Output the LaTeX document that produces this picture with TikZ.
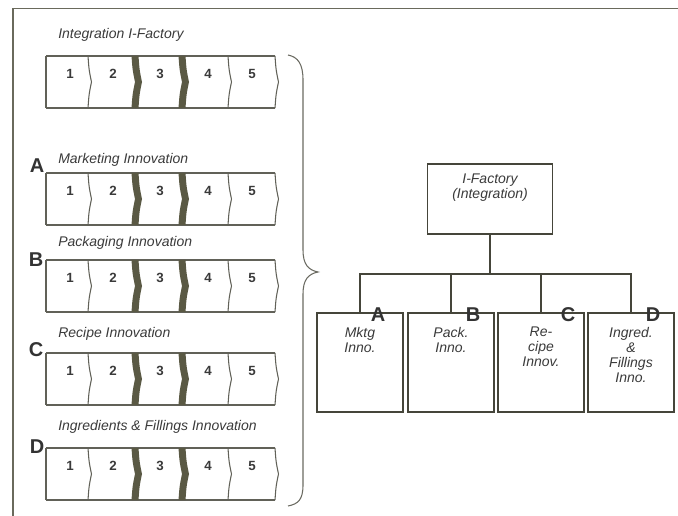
\documentclass[tikz,border=0pt]{standalone}
\usepackage{fontspec}
\setmainfont{Liberation Sans}
\usetikzlibrary{positioning}
\definecolor{ifLine}{HTML}{45453A}
\definecolor{ifBar}{HTML}{5A5944}
\definecolor{ifText}{HTML}{3A3A3A}
\definecolor{ifFrame}{HTML}{6A6A5C}

\begin{document}
\begin{tikzpicture}[x=0.75pt,y=-0.75pt]
    \tikzstyle{rowtitle}=[anchor=west, inner sep=0pt, text=ifText, font=\fontsize{10.5}{12}\selectfont\itshape]
    \tikzstyle{stepno}=[inner sep=0pt, text=ifText, font=\fontsize{10}{12}\selectfont\bfseries]
    \tikzstyle{bigletter}=[inner sep=0pt, text=black!80, font=\fontsize{15}{16}\selectfont\bfseries]
    \tikzstyle{orgbox}=[draw=ifLine, line width=1.3pt, inner sep=0pt]
    \tikzstyle{orgtext}=[inner sep=0pt, align=center, text=ifText, font=\fontsize{10.5}{11.25}\selectfont\itshape]
    \tikzstyle{tree}=[draw=ifLine, line width=1.3pt]
    \tikzstyle{rowline}=[draw=ifLine!85, line width=0.8pt]

    \useasboundingbox (0,0) rectangle (678,516);
    \draw[ifFrame, line width=1.3pt] (678,8.5) -- (13,8.5) -- (13,516);

    % the five step rows
    \foreach \y/\ty/\ttl/\n in {56/35/{Integration I-Factory}/0, 173/160/{Marketing Innovation}/1,
        260/243/{Packaging Innovation}/2, 353/334/{Recipe Innovation}/3,
        448/427/{Ingredients \& Fillings Innovation}/4} {
      \node[rowtitle] (title\n) at (58,\ty) {\ttl};
      \draw[rowline] (46,\y) -- (275,\y) (46,\y+52) -- (275,\y+52) (46,\y) -- (46,\y+52);
      \foreach \bx in {88,228,275}
        \draw[rowline] (\bx,\y) .. controls (\bx+1,\y+14) .. (\bx+3.5,\y+26) .. controls (\bx+1,\y+38) .. (\bx,\y+52);
      \foreach \bx in {131.5,178.5}
        \fill[ifBar] (\bx,\y) .. controls (\bx+1,\y+14) .. (\bx+3.5,\y+26) .. controls (\bx+1,\y+38) .. (\bx,\y+52)
          -- (\bx+7,\y+52) .. controls (\bx+8,\y+38) .. (\bx+10.5,\y+26) .. controls (\bx+8,\y+14) .. (\bx+7,\y) -- cycle;
      \foreach \k/\nx in {1/70,2/113,3/160,4/208,5/252}
        \node[stepno] (s\n-\k) at (\nx,\y+18) {\k};
    }

    \node[bigletter] (rowA) at (37,166) {A};
    \node[bigletter] (rowB) at (36,260) {B};
    \node[bigletter] (rowC) at (36,350) {C};
    \node[bigletter] (rowD) at (37,447) {D};

    \draw[ifLine!80, line width=0.8pt] (288,55) .. controls (298,57) and (303,64) .. (303,80) -- (303,250)
      .. controls (303,264) and (308,270) .. (318,272) .. controls (308,274) and (303,280) .. (303,294)
      -- (303,485) .. controls (303,500) and (298,504) .. (288,506);

    % organisation chart
    \node[orgbox, minimum width=93.75pt, minimum height=52.5pt] (iftop) at (490,199) {};
    \node[orgtext, below=8pt of iftop.north] (iftoptxt) {I-Factory\\(Integration)};

    \node[orgbox, minimum width=64.5pt, minimum height=74.25pt] (mktg) at (360,362.5) {};
    \node[orgbox, minimum width=64.5pt, minimum height=74.25pt] (pack) at (451,362.5) {};
    \node[orgbox, minimum width=64.5pt, minimum height=74.25pt] (recipe) at (541,362.5) {};
    \node[orgbox, minimum width=64.5pt, minimum height=74.25pt] (ingred) at (631,362.5) {};

    \node[orgtext, below=11pt of mktg.north] (mktgtxt) {Mktg\\Inno.};
    \node[orgtext, below=11pt of pack.north] (packtxt) {Pack.\\Inno.};
    \node[orgtext, below=11pt of recipe.north] (recipetxt) {Re-\\cipe\\Innov.};
    \node[orgtext, below=11pt of ingred.north] (ingredtxt) {Ingred.\\\&\\Fillings\\Inno.};

    \draw[tree] (iftop.south) -- (490,274) coordinate (hub);
    \foreach \b in {mktg,pack,recipe,ingred}
      \draw[tree] (hub) -| (\b.north);

    \node[bigletter] (orgA) at (378,315) {A};
    \node[bigletter] (orgB) at (473,315) {B};
    \node[bigletter] (orgC) at (568,315) {C};
    \node[bigletter] (orgD) at (653,315) {D};
\end{tikzpicture}
\end{document}
